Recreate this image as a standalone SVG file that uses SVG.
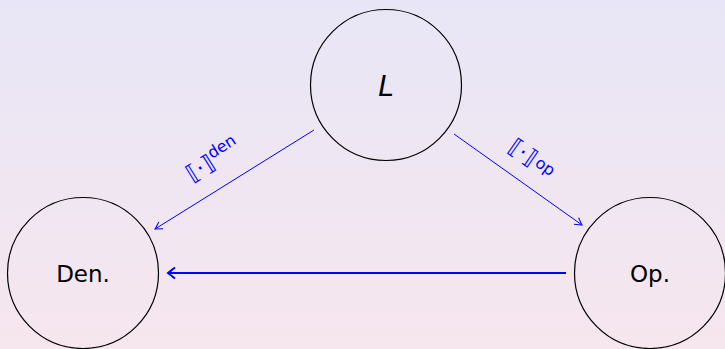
<svg xmlns="http://www.w3.org/2000/svg" width="725" height="349" viewBox="0 0 725 349">
<defs>
<linearGradient id="bg" x1="0" y1="0" x2="0" y2="1">
<stop offset="0" stop-color="#e8e6f6"/>
<stop offset="1" stop-color="#f6e6ee"/>
</linearGradient>
<marker id="arr" viewBox="-10 -6 12 12" refX="0" refY="0" markerWidth="12" markerHeight="12" markerUnits="userSpaceOnUse" orient="auto">
<path d="M-7,-4 Q-2,-1 0,0 Q-2,1 -7,4" fill="none" stroke="#0000ff" stroke-width="1"/>
</marker>
<marker id="arrB" viewBox="-10 -8 12 16" refX="0" refY="0" markerWidth="12" markerHeight="16" markerUnits="userSpaceOnUse" orient="auto">
<path d="M-7,-5.5 Q-2,-1.5 0,0 Q-2,1.5 -7,5.5" fill="none" stroke="#0000ff" stroke-width="2"/>
</marker>
</defs>
<style>
.node circle{fill:none;stroke:#000;stroke-width:1.2}
.node text{font-family:"DejaVu Sans",sans-serif;font-size:23px;text-anchor:middle;fill:#000}
.node text.it{font-style:italic;font-size:28px}
.lbl{font-family:"DejaVu Sans",sans-serif;font-size:22px;fill:#0000ff}
.sup{font-size:16px}
</style>
<rect width="725" height="349" fill="url(#bg)"/>
<g id="connectors">
<line x1="314" y1="130" x2="155" y2="229" stroke="#0000ff" stroke-width="1" marker-end="url(#arr)"/>
<line x1="454" y1="134" x2="582" y2="225" stroke="#0000ff" stroke-width="1" marker-end="url(#arr)"/>
<line x1="566" y1="273" x2="168" y2="273" stroke="#0000ff" stroke-width="2" marker-end="url(#arrB)"/>
<text class="lbl" transform="translate(192,182) rotate(-32)">⟦·⟧<tspan class="sup" dy="-9">den</tspan></text>
<text class="lbl" transform="translate(507,150) rotate(35)">⟦·⟧<tspan class="sup" dx="2" dy="-3">op</tspan></text>
</g>
<g id="node-L" class="node">
<circle cx="386" cy="85" r="75.5"/>
<text class="it" x="386" y="96">L</text>
</g>
<g id="node-Den" class="node">
<circle cx="83" cy="273" r="75.5"/>
<text x="83" y="282">Den.</text>
</g>
<g id="node-Op" class="node">
<circle cx="650" cy="273" r="75.5"/>
<text x="650" y="282">Op.</text>
</g>
</svg>
